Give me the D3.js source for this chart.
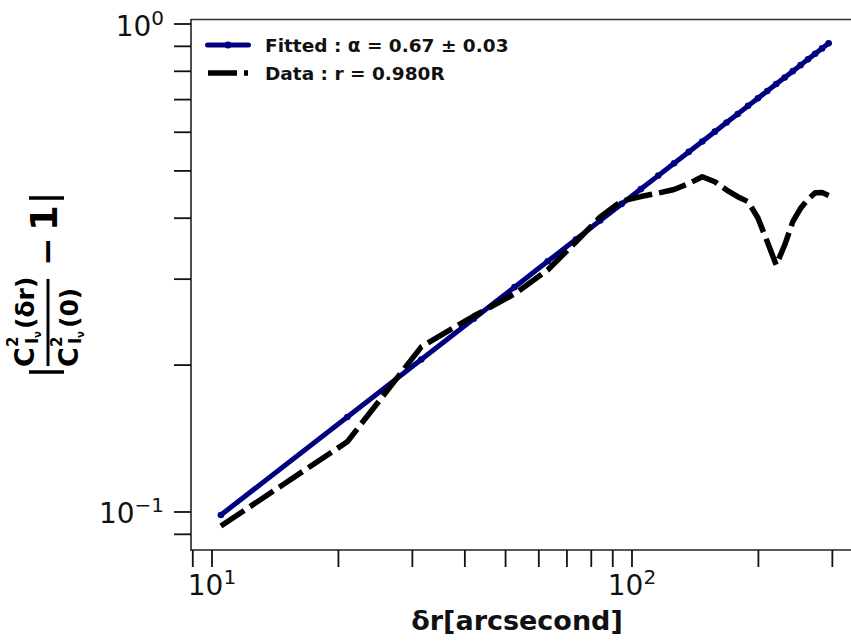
<!DOCTYPE html>
<html><head><meta charset="utf-8">
<script src="https://cdn.jsdelivr.net/npm/d3@7"></script>
<style>body{margin:0;background:#fff} svg{display:block}</style>
</head><body><svg id="c" width="851" height="642"></svg>
<script>
// ---------- data ----------
const lagsArcsec = [10.5, 21, 31.5, 42, 52.5, 63, 73.5, 84, 94.5, 105, 115.5, 126, 136.5, 147, 157.5, 168, 178.5, 189, 199.5, 210, 220.5, 231, 241.5, 252, 262.5, 273, 283.5, 294];
const fittedValues = [0.0986, 0.1566, 0.2054, 0.2489, 0.2889, 0.3264, 0.3618, 0.3956, 0.4279, 0.4589, 0.4890, 0.5185, 0.5469, 0.5746, 0.6017, 0.6282, 0.6542, 0.6796, 0.7046, 0.7292, 0.7533, 0.7771, 0.8005, 0.8236, 0.8464, 0.8689, 0.8913, 0.9133];
const dataValues = [0.0936, 0.1393, 0.218, 0.2521, 0.2797, 0.3133, 0.3575, 0.4023, 0.4337, 0.4430, 0.4505, 0.458, 0.4711, 0.4864, 0.475, 0.4568, 0.4427, 0.4324, 0.4004, 0.3579, 0.3207, 0.3524, 0.3934, 0.419, 0.4373, 0.4511, 0.4515, 0.4454];
const xMajorTicks = [10, 100];
const xMajorExp = ["1", "2"];
const xMinorTicks = [9, 20, 30, 40, 50, 60, 70, 80, 90, 200, 300];
const yMajorTicks = [0.1, 1];
const yMajorExp = ["\u22121", "0"];
const yMinorTicks = [0.09, 0.2, 0.3, 0.4, 0.5, 0.6, 0.7, 0.8, 0.9];
const legendLabels = ["Fitted : \u03b1 = 0.67 \u00b1 0.03", "Data : r = 0.980R"];
const xLabel = "\u03b4r[arcsecond]";

// ---------- layout ----------
const svg = d3.select("#c");
const L = 191, R = 852, T = 19, B = 550;
const x = d3.scaleLog().domain([8.9125, 334.1]).range([L, R]);
const y = d3.scaleLog().domain([0.08358, 1.0239]).range([B, T]);
const FONT = "DejaVu Sans, sans-serif";
const navy = "#000080";

// spines
svg.append("line").attr("x1", L).attr("x2", R).attr("y1", T + 0.5).attr("y2", T + 0.5).attr("stroke", "#333").attr("stroke-width", 1.3);
svg.append("line").attr("x1", L).attr("x2", R).attr("y1", B).attr("y2", B).attr("stroke", "#222").attr("stroke-width", 1.6);
svg.append("line").attr("x1", L).attr("x2", L).attr("y1", T).attr("y2", B + 1).attr("stroke", "#222").attr("stroke-width", 1.6);

const TL = 17;
// x ticks
const xt = svg.append("g");
xMajorTicks.concat(xMinorTicks).forEach(v => {
  xt.append("line").attr("x1", x(v)).attr("x2", x(v)).attr("y1", B).attr("y2", B + TL).attr("stroke", "#111").attr("stroke-width", 1.8);
});
xMajorTicks.forEach((v, i) => {
  const t = xt.append("text").attr("x", x(v)).attr("y", 595).attr("text-anchor", "middle")
    .attr("font-family", FONT).attr("font-size", 28).attr("fill", "#111");
  t.append("tspan").text("10");
  t.append("tspan").attr("font-size", 20).attr("dy", -11).text(xMajorExp[i]);
});
// y ticks
const yt = svg.append("g");
yMajorTicks.concat(yMinorTicks).forEach(v => {
  yt.append("line").attr("x1", L - TL).attr("x2", L).attr("y1", y(v)).attr("y2", y(v)).attr("stroke", "#111").attr("stroke-width", 1.8);
});
yMajorTicks.forEach((v, i) => {
  const t = yt.append("text").attr("x", 164).attr("y", y(v) + 11.5).attr("text-anchor", "end")
    .attr("font-family", FONT).attr("font-size", 28).attr("fill", "#111");
  t.append("tspan").text("10");
  t.append("tspan").attr("font-size", 20).attr("dy", -11).text(yMajorExp[i]);
});

// x label
svg.append("text").attr("x", 517).attr("y", 630).attr("text-anchor", "middle")
  .attr("font-family", FONT).attr("font-weight", "bold").attr("font-size", 27).attr("fill", "#111").text(xLabel);

// y label (rotated math expression)
const yl = svg.append("g").attr("transform", "translate(48,285) rotate(-90)")
  .attr("font-family", FONT).attr("font-weight", "bold").attr("fill", "#000");
function txt(g, s, xx, yy, fs) { g.append("text").attr("x", xx).attr("y", yy).attr("font-size", fs).text(s); }
// abs bars
yl.append("line").attr("x1", -87).attr("x2", -87).attr("y1", -19).attr("y2", 16).attr("stroke", "#000").attr("stroke-width", 3.5);
yl.append("line").attr("x1", 87).attr("x2", 87).attr("y1", -19).attr("y2", 16).attr("stroke", "#000").attr("stroke-width", 3.5);
// numerator
txt(yl, "C", -82, -14, 27);
txt(yl, "2", -62, -30, 15);
txt(yl, "I", -59, -10, 17);
txt(yl, "\u03bd", -53, -7, 10);
txt(yl, "(\u03b4r)", -44, -14, 25);
// fraction bar
yl.append("line").attr("x1", -81).attr("x2", 6).attr("y1", 0).attr("y2", 0).attr("stroke", "#000").attr("stroke-width", 3);
// denominator
txt(yl, "C", -82, 30, 27);
txt(yl, "2", -62, 14, 15);
txt(yl, "I", -59, 33, 17);
txt(yl, "\u03bd", -53, 36, 10);
txt(yl, "(0)", -43, 30, 25);
// minus one
txt(yl, "\u2212", 19, 11, 34);
txt(yl, "1", 54, 9, 37);

// ---------- series ----------
const pts = lagsArcsec.map((v, i) => ({ x: v, f: fittedValues[i], d: dataValues[i] }));
const lineF = d3.line().x(p => x(p.x)).y(p => y(p.f));
const lineD = d3.line().x(p => x(p.x)).y(p => y(p.d));
svg.append("path").attr("d", lineF(pts)).attr("fill", "none").attr("stroke", navy)
  .attr("stroke-width", 5).attr("stroke-linecap", "round").attr("stroke-linejoin", "round");
svg.append("g").selectAll("circle").data(pts).join("circle")
  .attr("cx", p => x(p.x)).attr("cy", p => y(p.f)).attr("r", 3.3).attr("fill", navy);
svg.append("path").attr("d", lineD(pts)).attr("fill", "none").attr("stroke", "#000")
  .attr("stroke-width", 5.5).attr("stroke-dasharray", "28 7").attr("stroke-linejoin", "round");

// ---------- legend ----------
const lg = svg.append("g");
lg.append("line").attr("x1", 207.5).attr("x2", 248.5).attr("y1", 45).attr("y2", 45).attr("stroke", navy)
  .attr("stroke-width", 5).attr("stroke-linecap", "round");
lg.append("circle").attr("cx", 228).attr("cy", 45).attr("r", 3.5).attr("fill", navy);
lg.append("line").attr("x1", 208).attr("x2", 248).attr("y1", 73).attr("y2", 73).attr("stroke", "#000")
  .attr("stroke-width", 5.5).attr("stroke-dasharray", "29 7");
legendLabels.forEach((s, i) => {
  lg.append("text").attr("x", 265).attr("y", 51.5 + i * 28).attr("font-family", FONT).attr("font-weight", "bold")
    .attr("font-size", 18.5).attr("fill", "#111").text(s);
});
</script></body></html>
